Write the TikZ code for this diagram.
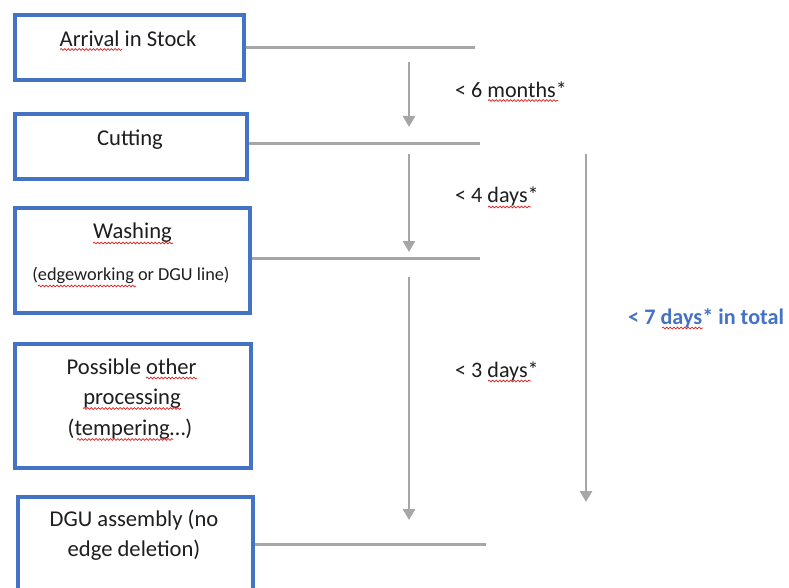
\documentclass[tikz,border=0pt]{standalone}
\usepackage{fontspec}
\setmainfont{Carlito}
\usetikzlibrary{arrows.meta,decorations.pathmorphing}
\definecolor{boxblue}{HTML}{4472C4}
\definecolor{lgray}{HTML}{A6A6A6}
\definecolor{txt}{HTML}{1E1E1E}
\definecolor{spell}{HTML}{E02020}
\begin{document}
\begin{tikzpicture}[x=1pt,y=-1pt,
  box/.style={draw=boxblue,line width=3.3pt,inner sep=0pt},
  big/.style={font=\fontsize{22.6}{27}\selectfont,text=txt,inner sep=0pt,anchor=base},
  small/.style={font=\fontsize{18.3}{22}\selectfont,text=txt,inner sep=0pt,anchor=base},
  lab/.style={font=\fontsize{22.1}{27}\selectfont,text=txt,inner sep=0pt,anchor=base west},
  tot/.style={font=\bfseries\fontsize{22.2}{27}\selectfont,text=boxblue,inner sep=0pt,anchor=base west},
  hline/.style={draw=lgray,line width=3pt},
  varrow/.style={draw=lgray,line width=2.7pt,-{Triangle[width=12pt,length=11pt]}},
  squig/.style={draw=spell,line width=0.7pt,decorate,decoration={snake,amplitude=0.9pt,segment length=3.6pt}}]
\clip (0,0) rectangle (789,588);
\fill[white] (0,0) rectangle (789,588);

% boxes
\node[box,minimum width=229pt,minimum height=65pt] (b1) at (129.5,47.5) {};
\node[box,minimum width=232pt,minimum height=65pt] (b2) at (131,146.5) {};
\node[box,minimum width=235pt,minimum height=105pt] (b3) at (132.5,260.5) {};
\node[box,minimum width=236pt,minimum height=124pt] (b4) at (133,406) {};
\node[box,minimum width=235pt,minimum height=95pt] (b5) at (135.5,544.5) {};

% box texts
\node[big] (t1) at (128,47) {Arrival in Stock};
\node[big] (t2) at (130,146) {Cutting};
\node[big] (t3a) at (132.5,238) {Washing};
\node[small] (t3b) at (131,280) {(edgeworking or DGU line)};
\node[big] (t4a) at (131.7,374) {Possible other};
\node[big] (t4b) at (132,404.5) {processing};
\node[big] (t4c) at (130,435) {(tempering…)};
\node[big] (t5a) at (134,526) {DGU assembly (no};
\node[big] (t5b) at (134,556) {edge deletion)};

% horizontal lines
\coordinate (l1) at (475,47.5);
\coordinate (l2) at (480,144);
\coordinate (l3) at (480,258);
\coordinate (l4) at (486,544);
\draw[hline] (b1.east |- l1) -- (l1);
\draw[hline] (b2.east |- l2) -- (l2);
\draw[hline] (b3.east |- l3) -- (l3);
\draw[hline] (b5.east |- l4) -- (l4);

% arrows
\coordinate (a1s) at (409,62);  \coordinate (a1e) at (409,127);
\coordinate (a2s) at (409,154); \coordinate (a2e) at (409,252);
\coordinate (a3s) at (409,277); \coordinate (a3e) at (409,520);
\coordinate (a4s) at (586,154); \coordinate (a4e) at (586,502);
\draw[varrow] (a1s) -- (a1e);
\draw[varrow] (a2s) -- (a2e);
\draw[varrow] (a3s) -- (a3e);
\draw[varrow] (a4s) -- (a4e);

% labels
\node[lab] (m6) at (455,98) {< 6 months*};
\node[lab] (d4) at (455,203) {< 4 days*};
\node[lab] (d3) at (455,377) {< 3 days*};
\node[tot] (d7) at (628,324) {< 7 days* in total};

% spell-check squiggles
\draw[squig] (60,49.5) -- (122,49.5);
\draw[squig] (93,243) -- (173,243);
\draw[squig] (38,286) -- (136,286);
\draw[squig] (146,378) -- (197,378);
\draw[squig] (83,408.5) -- (181,408.5);
\draw[squig] (77,439.5) -- (173,439.5);
\draw[squig] (488,100.5) -- (558,100.5);
\draw[squig] (488,207) -- (531,207);
\draw[squig] (488,381) -- (531,381);
\draw[squig] (662,328) -- (703,328);
\end{tikzpicture}
\end{document}
